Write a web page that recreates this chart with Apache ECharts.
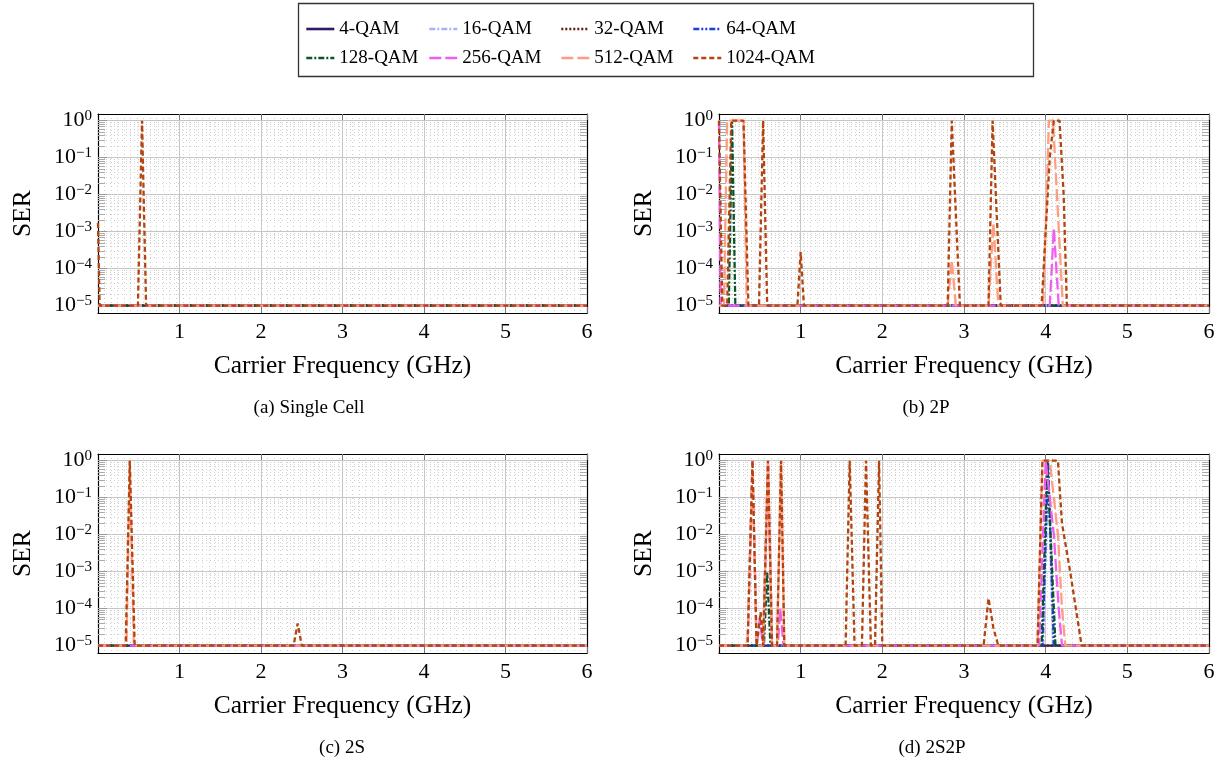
<!DOCTYPE html>
<html>
<head>
<meta charset="utf-8">
<script src="https://cdn.jsdelivr.net/npm/echarts@6/dist/echarts.min.js"></script>
<style>
  html, body { margin: 0; background: #fff; }
  #chart { width: 1222px; height: 759px; }
</style>
</head>
<body>
<div id="chart"></div>
<script>
// tick positions
const xTicks = [1, 2, 3, 4, 5, 6];
const yExp = [-5, -4, -3, -2, -1, 0];
const yMinorMult = [2, 3, 4, 5, 6, 7, 8, 9];

const names = ['4-QAM', '16-QAM', '32-QAM', '64-QAM', '128-QAM', '256-QAM', '512-QAM', '1024-QAM'];
const colors = ['#2e1b63', '#aab3f2', '#5a1e0c', '#1c3fd8', '#0b5428', '#f05ef0', '#ff9d80', '#b3440f'];
const dashes = ['solid', [6, 2, 2, 2], [2, 2], [6, 2, 2, 2, 2, 2], [6, 2, 2, 2], [12, 4], [12, 4], [5, 3]];

const captions = ['(a) Single Cell', '(b) 2P', '(c) 2S', '(d) 2S2P'];

// [GHz, SER] break points; SER 1e-5 is the floor
const flat = [[0, 1e-5], [6, 1e-5]];

// (a) single cell
const a1024 = [[0, 1.7e-3], [0.02, 1e-5], [0.49, 1e-5], [0.54, 1], [0.59, 1e-5], [6, 1e-5]];

// (b) 2P
const b128 = [[0, 1e-5], [0.12, 1e-5], [0.16, 1], [0.2, 1e-5], [6, 1e-5]];
const b256 = [[0, 1], [0.02, 1e-5], [4.05, 1e-5], [4.1, 1.2e-3], [4.16, 1e-5], [6, 1e-5]];
const b512 = [[0, 1e-5], [0.06, 1e-5], [0.1, 1], [0.3, 1], [0.34, 1e-5], [2.8, 1e-5], [2.85, 1.7e-4], [2.9, 1e-5],
  [3.3, 1e-5], [3.36, 1.7e-3], [3.42, 1e-5], [3.97, 1e-5], [4.04, 1], [4.09, 1], [4.21, 1e-5], [6, 1e-5]];
const b1024 = [[0, 1], [0.04, 1e-5], [0.1, 1e-5], [0.15, 1], [0.3, 1], [0.36, 1e-5], [0.49, 1e-5], [0.54, 1], [0.59, 1e-5],
  [0.96, 1e-5], [1.0, 2.8e-4], [1.04, 1e-5], [2.8, 1e-5], [2.85, 1], [2.95, 1e-5], [3.3, 1e-5], [3.35, 1], [3.45, 1e-5],
  [3.95, 1e-5], [4.05, 0.1], [4.1, 1], [4.17, 1], [4.22, 1e-2], [4.26, 1e-5], [6, 1e-5]];

// (c) 2S
const c512 = [[0, 1e-5], [0.35, 1e-5], [0.39, 1], [0.44, 1e-5], [6, 1e-5]];
const c1024 = [[0, 1e-5], [0.34, 1e-5], [0.39, 1], [0.45, 1e-5], [2.4, 1e-5], [2.45, 4e-5], [2.5, 1e-5], [6, 1e-5]];

// (d) 2S2P
const d16 = [[0, 1e-5], [3.97, 1e-5], [4.03, 0.6], [4.09, 1e-5], [6, 1e-5]];
const d64 = [[0, 1e-5], [3.96, 1e-5], [4.03, 1], [4.1, 1e-5], [6, 1e-5]];
const d128 = [[0, 1e-5], [0.55, 1e-5], [0.59, 1e-3], [0.63, 1e-5], [3.95, 1e-5], [4.02, 1], [4.12, 1e-5], [6, 1e-5]];
const d256 = [[0, 1e-5], [0.35, 1e-5], [0.41, 1], [0.46, 1e-5], [0.5, 5e-5], [0.54, 1e-5], [0.6, 1], [0.65, 1e-5],
  [0.72, 1e-5], [0.75, 1e-4], [0.79, 1e-5], [3.92, 1e-5], [4.0, 1], [4.1, 1e-2], [4.16, 1e-4], [4.2, 1e-5], [6, 1e-5]];
const d512 = [[0, 1e-5], [0.35, 1e-5], [0.41, 1], [0.46, 1e-5], [0.54, 1e-5], [0.6, 1], [0.65, 1e-5], [0.71, 1e-5],
  [0.76, 1], [0.8, 1e-5], [3.9, 1e-5], [3.96, 1], [4.05, 1], [4.15, 1e-2], [4.2, 1e-4], [4.24, 1e-5], [6, 1e-5]];
const d1024 = [[0, 1e-5], [0.35, 1e-5], [0.41, 1], [0.46, 1e-5], [0.51, 8e-5], [0.54, 1e-5], [0.6, 1], [0.65, 1e-5],
  [0.71, 1e-5], [0.76, 1], [0.8, 1e-5], [1.55, 1e-5], [1.6, 1], [1.66, 1e-5], [1.75, 1e-5], [1.8, 1], [1.86, 1e-5],
  [1.91, 1e-5], [1.96, 1], [2.0, 1e-5], [3.24, 1e-5], [3.3, 1.9e-4], [3.36, 3e-5], [3.42, 1e-5], [3.9, 1e-5],
  [3.96, 1], [4.15, 1], [4.2, 2e-2], [4.3, 1e-3], [4.37, 1e-4], [4.44, 1e-5], [6, 1e-5]];

const panels = [
  [flat, flat, flat, flat, flat, flat, flat, a1024],
  [flat, flat, flat, flat, b128, b256, b512, b1024],
  [flat, flat, flat, flat, flat, flat, c512, c1024],
  [flat, d16, flat, d64, d128, d256, d512, d1024]
];

const boxes = [
  { left: 98, top: 114, width: 489, height: 199 },
  { left: 719, top: 114, width: 490, height: 199 },
  { left: 98, top: 454, width: 489, height: 199 },
  { left: 719, top: 454, width: 490, height: 199 }
];
const captionPos = [[309, 408], [926, 408], [342, 748], [932, 748]];

const font = 'Liberation Serif';
const yMin = -5.2, yMax = 0.18;
const yMinor = [];
yExp.forEach(e => yMinorMult.forEach(m => {
  const v = e + Math.log10(m);
  if (v < yMax) yMinor.push(v);
}));
const supText = e => (e < 0 ? '\u2212' + (-e) : '' + e);

const chart = echarts.init(document.getElementById('chart'));

const grid = [], xAxis = [], yAxis = [], series = [];
boxes.forEach((b, i) => {
  grid.push({ left: b.left, top: b.top, width: b.width, height: b.height, containLabel: false });
  // main bottom axis
  xAxis.push({
    type: 'value', gridIndex: i, min: 0, max: 6, position: 'bottom',
    axisLine: { onZero: false, lineStyle: { color: '#000', width: 1.2 } },
    axisTick: { customValues: xTicks, inside: true, length: 6, lineStyle: { color: '#777' } },
    axisLabel: { customValues: xTicks, margin: 8, fontFamily: font, fontSize: 22, color: '#000' },
    splitLine: { show: true, lineStyle: { color: '#c6c6c6', width: 1 } },
    name: 'Carrier Frequency (GHz)', nameLocation: 'middle', nameGap: 40,
    nameTextStyle: { fontFamily: font, fontSize: 25.5, color: '#000' }
  });
  // minor vertical grid
  xAxis.push({
    type: 'value', gridIndex: i, min: 0, max: 6, interval: 0.08, position: 'bottom',
    axisLine: { show: false }, axisTick: { show: false }, axisLabel: { show: false },
    splitLine: { show: true, lineStyle: { color: '#d0d0d0', width: 1, type: [1, 3] } }
  });
  // top frame
  xAxis.push({
    type: 'value', gridIndex: i, min: 0, max: 6, position: 'top',
    axisLine: { onZero: false, lineStyle: { color: '#000', width: 1.2 } },
    axisTick: { customValues: xTicks, inside: true, length: 6, lineStyle: { color: '#777' } },
    axisLabel: { show: false }, splitLine: { show: false }
  });
  // main left axis
  yAxis.push({
    type: 'value', gridIndex: i, min: yMin, max: yMax, position: 'left',
    axisLine: { onZero: false, lineStyle: { color: '#000', width: 1.2 } },
    axisTick: { customValues: yExp, inside: true, length: 9, lineStyle: { color: '#999' } },
    axisLabel: {
      customValues: yExp, margin: 6, color: '#000',
      formatter: v => '{b|10}{s|' + supText(Math.round(v)) + '}',
      rich: {
        b: { fontFamily: font, fontSize: 22, lineHeight: 25, color: '#000' },
        s: { fontFamily: font, fontSize: 15, lineHeight: 15, verticalAlign: 'top', color: '#000' }
      }
    },
    splitLine: { show: true, lineStyle: { color: '#c6c6c6', width: 1 } },
    name: 'SER', nameLocation: 'middle', nameGap: 62,
    nameTextStyle: { fontFamily: font, fontSize: 25.5, color: '#000' }
  });
  // minor horizontal grid + left minor ticks
  yAxis.push({
    type: 'value', gridIndex: i, min: yMin, max: yMax, position: 'left',
    axisLine: { show: false },
    axisTick: { customValues: yMinor, inside: true, length: 7, lineStyle: { color: '#aaa' } },
    axisLabel: { show: false },
    splitLine: { show: true, lineStyle: { color: '#d2d2d2', width: 1, type: [1, 3] } }
  });
  // right frame with minor ticks
  yAxis.push({
    type: 'value', gridIndex: i, min: yMin, max: yMax, position: 'right',
    axisLine: { onZero: false, lineStyle: { color: '#000', width: 1.2 } },
    axisTick: { customValues: yMinor, inside: true, length: 7, lineStyle: { color: '#aaa' } },
    axisLabel: { show: false }, splitLine: { show: false }
  });

  panels[i].forEach((pts, k) => {
    series.push({
      name: names[k], type: 'line', xAxisIndex: 3 * i, yAxisIndex: 3 * i,
      data: pts.map(p => [p[0], Math.log10(p[1])]),
      symbol: 'none', silent: true, animation: false,
      lineStyle: { color: colors[k], width: 2.3, type: dashes[k] },
      itemStyle: { color: colors[k] }
    });
  });
});

const legendCols = [[0, 4], [1, 5], [2, 6], [3, 7]];
const legendLeft = [305, 428, 560, 692];
const legend = legendCols.map((c, j) => ({
  orient: 'vertical', left: legendLeft[j], top: 17, padding: 0,
  itemWidth: 28, itemHeight: 14, itemGap: 5,
  selectedMode: false, data: c.map(k => names[k]),
  itemStyle: { opacity: 0 },
  lineStyle: { width: 2.6 },
  textStyle: { fontFamily: font, fontSize: 19, lineHeight: 24, color: '#000' }
}));

const graphic = [{
  type: 'rect', shape: { x: 298.5, y: 3.5, width: 735, height: 73 },
  style: { fill: 'none', stroke: '#333', lineWidth: 1.3 }, z: 100
}];
captions.forEach((t, i) => {
  graphic.push({
    type: 'text', x: captionPos[i][0], y: captionPos[i][1],
    style: { text: t, fontFamily: font, fontSize: 19, fill: '#000', align: 'center', verticalAlign: 'middle' }
  });
});

chart.setOption({
  animation: false,
  backgroundColor: '#fff',
  grid, xAxis, yAxis, series, legend, graphic
});
window.addEventListener('resize', () => chart.resize());
</script>
</body>
</html>
